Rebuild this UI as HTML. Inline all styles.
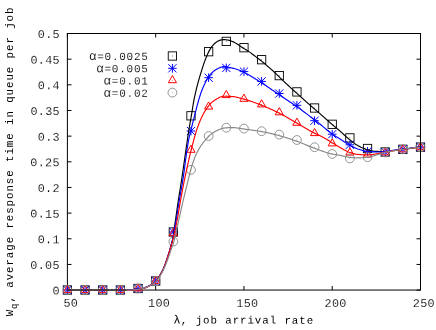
<!DOCTYPE html>
<html><head><meta charset="utf-8"><title>chart</title>
<style>
html,body{margin:0;padding:0;background:#fff;}
body{width:436px;height:330px;overflow:hidden;position:relative;font-family:"Liberation Mono",monospace;}
</style></head><body>
<svg width="436" height="330" viewBox="0 0 436 330" style="position:absolute;left:0;top:0;will-change:transform">
<g stroke="#000" stroke-width="1" fill="none">
<path d="M67.4 33.5V290.1"/>
<path d="M66.9 33.5H421"/>
<path d="M66.9 290.05H421" />
<path d="M67.5 290.10h4M420.5 290.10h-4M67.5 264.44h4M420.5 264.44h-4M67.5 238.78h4M420.5 238.78h-4M67.5 213.12h4M420.5 213.12h-4M67.5 187.46h4M420.5 187.46h-4M67.5 161.80h4M420.5 161.80h-4M67.5 136.14h4M420.5 136.14h-4M67.5 110.48h4M420.5 110.48h-4M67.5 84.82h4M420.5 84.82h-4M67.5 59.16h4M420.5 59.16h-4M67.5 33.50h4M420.5 33.50h-4M67.40 290v-4M67.40 33.5v4M155.68 290v-4M155.68 33.5v4M243.95 290v-4M243.95 33.5v4M332.23 290v-4M332.23 33.5v4M420.50 290v-4M420.50 33.5v4"/>
</g>
<rect x="63.25" y="285.85" width="8.30" height="8.30" fill="none" stroke="#000000" stroke-width="0.9"/><rect x="66.95" y="289.55" width="0.9" height="0.9" fill="#000000" opacity="0.6"/>
<rect x="80.91" y="285.85" width="8.30" height="8.30" fill="none" stroke="#000000" stroke-width="0.9"/><rect x="84.61" y="289.55" width="0.9" height="0.9" fill="#000000" opacity="0.6"/>
<rect x="98.56" y="285.85" width="8.30" height="8.30" fill="none" stroke="#000000" stroke-width="0.9"/><rect x="102.26" y="289.55" width="0.9" height="0.9" fill="#000000" opacity="0.6"/>
<rect x="116.22" y="285.85" width="8.30" height="8.30" fill="none" stroke="#000000" stroke-width="0.9"/><rect x="119.92" y="289.55" width="0.9" height="0.9" fill="#000000" opacity="0.6"/>
<rect x="133.87" y="284.35" width="8.30" height="8.30" fill="none" stroke="#000000" stroke-width="0.9"/><rect x="137.57" y="288.05" width="0.9" height="0.9" fill="#000000" opacity="0.6"/>
<rect x="151.53" y="276.85" width="8.30" height="8.30" fill="none" stroke="#000000" stroke-width="0.9"/><rect x="155.23" y="280.55" width="0.9" height="0.9" fill="#000000" opacity="0.6"/>
<rect x="169.18" y="227.85" width="8.30" height="8.30" fill="none" stroke="#000000" stroke-width="0.9"/><rect x="172.88" y="231.55" width="0.9" height="0.9" fill="#000000" opacity="0.6"/>
<rect x="186.84" y="111.65" width="8.30" height="8.30" fill="none" stroke="#000000" stroke-width="0.9"/><rect x="190.54" y="115.35" width="0.9" height="0.9" fill="#000000" opacity="0.6"/>
<rect x="204.49" y="47.55" width="8.30" height="8.30" fill="none" stroke="#000000" stroke-width="0.9"/><rect x="208.19" y="51.25" width="0.9" height="0.9" fill="#000000" opacity="0.6"/>
<rect x="222.15" y="37.25" width="8.30" height="8.30" fill="none" stroke="#000000" stroke-width="0.9"/><rect x="225.85" y="40.95" width="0.9" height="0.9" fill="#000000" opacity="0.6"/>
<rect x="239.80" y="43.55" width="8.30" height="8.30" fill="none" stroke="#000000" stroke-width="0.9"/><rect x="243.50" y="47.25" width="0.9" height="0.9" fill="#000000" opacity="0.6"/>
<rect x="257.46" y="55.55" width="8.30" height="8.30" fill="none" stroke="#000000" stroke-width="0.9"/><rect x="261.16" y="59.25" width="0.9" height="0.9" fill="#000000" opacity="0.6"/>
<rect x="275.11" y="71.45" width="8.30" height="8.30" fill="none" stroke="#000000" stroke-width="0.9"/><rect x="278.81" y="75.15" width="0.9" height="0.9" fill="#000000" opacity="0.6"/>
<rect x="292.76" y="87.75" width="8.30" height="8.30" fill="none" stroke="#000000" stroke-width="0.9"/><rect x="296.46" y="91.45" width="0.9" height="0.9" fill="#000000" opacity="0.6"/>
<rect x="310.42" y="103.85" width="8.30" height="8.30" fill="none" stroke="#000000" stroke-width="0.9"/><rect x="314.12" y="107.55" width="0.9" height="0.9" fill="#000000" opacity="0.6"/>
<rect x="328.08" y="120.15" width="8.30" height="8.30" fill="none" stroke="#000000" stroke-width="0.9"/><rect x="331.78" y="123.85" width="0.9" height="0.9" fill="#000000" opacity="0.6"/>
<rect x="345.73" y="133.75" width="8.30" height="8.30" fill="none" stroke="#000000" stroke-width="0.9"/><rect x="349.43" y="137.45" width="0.9" height="0.9" fill="#000000" opacity="0.6"/>
<rect x="363.39" y="144.35" width="8.30" height="8.30" fill="none" stroke="#000000" stroke-width="0.9"/><rect x="367.09" y="148.05" width="0.9" height="0.9" fill="#000000" opacity="0.6"/>
<rect x="381.04" y="147.85" width="8.30" height="8.30" fill="none" stroke="#000000" stroke-width="0.9"/><rect x="384.74" y="151.55" width="0.9" height="0.9" fill="#000000" opacity="0.6"/>
<rect x="398.70" y="145.15" width="8.30" height="8.30" fill="none" stroke="#000000" stroke-width="0.9"/><rect x="402.40" y="148.85" width="0.9" height="0.9" fill="#000000" opacity="0.6"/>
<rect x="416.35" y="142.95" width="8.30" height="8.30" fill="none" stroke="#000000" stroke-width="0.9"/><rect x="420.05" y="146.65" width="0.9" height="0.9" fill="#000000" opacity="0.6"/>
<path d="M63.10 290.00h8.60M67.40 285.70v8.60M63.30 285.90l8.20 8.20M63.30 294.10l8.20 -8.20" stroke="#0000ff" stroke-width="1" fill="none"/>
<path d="M80.76 290.00h8.60M85.06 285.70v8.60M80.96 285.90l8.20 8.20M80.96 294.10l8.20 -8.20" stroke="#0000ff" stroke-width="1" fill="none"/>
<path d="M98.41 290.00h8.60M102.71 285.70v8.60M98.61 285.90l8.20 8.20M98.61 294.10l8.20 -8.20" stroke="#0000ff" stroke-width="1" fill="none"/>
<path d="M116.07 290.00h8.60M120.37 285.70v8.60M116.27 285.90l8.20 8.20M116.27 294.10l8.20 -8.20" stroke="#0000ff" stroke-width="1" fill="none"/>
<path d="M133.72 288.50h8.60M138.02 284.20v8.60M133.92 284.40l8.20 8.20M133.92 292.60l8.20 -8.20" stroke="#0000ff" stroke-width="1" fill="none"/>
<path d="M151.38 281.00h8.60M155.68 276.70v8.60M151.58 276.90l8.20 8.20M151.58 285.10l8.20 -8.20" stroke="#0000ff" stroke-width="1" fill="none"/>
<path d="M169.03 232.00h8.60M173.33 227.70v8.60M169.23 227.90l8.20 8.20M169.23 236.10l8.20 -8.20" stroke="#0000ff" stroke-width="1" fill="none"/>
<path d="M186.69 131.00h8.60M190.99 126.70v8.60M186.89 126.90l8.20 8.20M186.89 135.10l8.20 -8.20" stroke="#0000ff" stroke-width="1" fill="none"/>
<path d="M204.34 77.70h8.60M208.64 73.40v8.60M204.54 73.60l8.20 8.20M204.54 81.80l8.20 -8.20" stroke="#0000ff" stroke-width="1" fill="none"/>
<path d="M222.00 67.90h8.60M226.30 63.60v8.60M222.20 63.80l8.20 8.20M222.20 72.00l8.20 -8.20" stroke="#0000ff" stroke-width="1" fill="none"/>
<path d="M239.65 71.60h8.60M243.95 67.30v8.60M239.85 67.50l8.20 8.20M239.85 75.70l8.20 -8.20" stroke="#0000ff" stroke-width="1" fill="none"/>
<path d="M257.31 81.40h8.60M261.61 77.10v8.60M257.50 77.30l8.20 8.20M257.50 85.50l8.20 -8.20" stroke="#0000ff" stroke-width="1" fill="none"/>
<path d="M274.96 93.50h8.60M279.26 89.20v8.60M275.16 89.40l8.20 8.20M275.16 97.60l8.20 -8.20" stroke="#0000ff" stroke-width="1" fill="none"/>
<path d="M292.61 105.30h8.60M296.91 101.00v8.60M292.81 101.20l8.20 8.20M292.81 109.40l8.20 -8.20" stroke="#0000ff" stroke-width="1" fill="none"/>
<path d="M310.27 120.70h8.60M314.57 116.40v8.60M310.47 116.60l8.20 8.20M310.47 124.80l8.20 -8.20" stroke="#0000ff" stroke-width="1" fill="none"/>
<path d="M327.93 134.20h8.60M332.23 129.90v8.60M328.12 130.10l8.20 8.20M328.12 138.30l8.20 -8.20" stroke="#0000ff" stroke-width="1" fill="none"/>
<path d="M345.58 144.80h8.60M349.88 140.50v8.60M345.78 140.70l8.20 8.20M345.78 148.90l8.20 -8.20" stroke="#0000ff" stroke-width="1" fill="none"/>
<path d="M363.24 151.40h8.60M367.54 147.10v8.60M363.44 147.30l8.20 8.20M363.44 155.50l8.20 -8.20" stroke="#0000ff" stroke-width="1" fill="none"/>
<path d="M380.89 152.00h8.60M385.19 147.70v8.60M381.09 147.90l8.20 8.20M381.09 156.10l8.20 -8.20" stroke="#0000ff" stroke-width="1" fill="none"/>
<path d="M398.55 149.30h8.60M402.85 145.00v8.60M398.75 145.20l8.20 8.20M398.75 153.40l8.20 -8.20" stroke="#0000ff" stroke-width="1" fill="none"/>
<path d="M416.20 147.10h8.60M420.50 142.80v8.60M416.40 143.00l8.20 8.20M416.40 151.20l8.20 -8.20" stroke="#0000ff" stroke-width="1" fill="none"/>
<path d="M67.40 285.25L63.30 292.40L71.50 292.40Z" stroke="#ff0000" stroke-width="1" fill="none"/><rect x="66.95" y="289.55" width="0.9" height="0.9" fill="#ff0000" opacity="0.6"/>
<path d="M85.06 285.25L80.96 292.40L89.16 292.40Z" stroke="#ff0000" stroke-width="1" fill="none"/><rect x="84.61" y="289.55" width="0.9" height="0.9" fill="#ff0000" opacity="0.6"/>
<path d="M102.71 285.25L98.61 292.40L106.81 292.40Z" stroke="#ff0000" stroke-width="1" fill="none"/><rect x="102.26" y="289.55" width="0.9" height="0.9" fill="#ff0000" opacity="0.6"/>
<path d="M120.37 285.25L116.27 292.40L124.47 292.40Z" stroke="#ff0000" stroke-width="1" fill="none"/><rect x="119.92" y="289.55" width="0.9" height="0.9" fill="#ff0000" opacity="0.6"/>
<path d="M138.02 283.75L133.92 290.90L142.12 290.90Z" stroke="#ff0000" stroke-width="1" fill="none"/><rect x="137.57" y="288.05" width="0.9" height="0.9" fill="#ff0000" opacity="0.6"/>
<path d="M155.68 276.25L151.58 283.40L159.78 283.40Z" stroke="#ff0000" stroke-width="1" fill="none"/><rect x="155.23" y="280.55" width="0.9" height="0.9" fill="#ff0000" opacity="0.6"/>
<path d="M173.33 228.45L169.23 235.60L177.43 235.60Z" stroke="#ff0000" stroke-width="1" fill="none"/><rect x="172.88" y="232.75" width="0.9" height="0.9" fill="#ff0000" opacity="0.6"/>
<path d="M190.99 145.15L186.89 152.30L195.09 152.30Z" stroke="#ff0000" stroke-width="1" fill="none"/><rect x="190.54" y="149.45" width="0.9" height="0.9" fill="#ff0000" opacity="0.6"/>
<path d="M208.64 101.95L204.54 109.10L212.74 109.10Z" stroke="#ff0000" stroke-width="1" fill="none"/><rect x="208.19" y="106.25" width="0.9" height="0.9" fill="#ff0000" opacity="0.6"/>
<path d="M226.30 90.45L222.20 97.60L230.40 97.60Z" stroke="#ff0000" stroke-width="1" fill="none"/><rect x="225.85" y="94.75" width="0.9" height="0.9" fill="#ff0000" opacity="0.6"/>
<path d="M243.95 94.15L239.85 101.30L248.05 101.30Z" stroke="#ff0000" stroke-width="1" fill="none"/><rect x="243.50" y="98.45" width="0.9" height="0.9" fill="#ff0000" opacity="0.6"/>
<path d="M261.61 99.75L257.50 106.90L265.71 106.90Z" stroke="#ff0000" stroke-width="1" fill="none"/><rect x="261.16" y="104.05" width="0.9" height="0.9" fill="#ff0000" opacity="0.6"/>
<path d="M279.26 107.65L275.16 114.80L283.36 114.80Z" stroke="#ff0000" stroke-width="1" fill="none"/><rect x="278.81" y="111.95" width="0.9" height="0.9" fill="#ff0000" opacity="0.6"/>
<path d="M296.91 118.15L292.81 125.30L301.01 125.30Z" stroke="#ff0000" stroke-width="1" fill="none"/><rect x="296.46" y="122.45" width="0.9" height="0.9" fill="#ff0000" opacity="0.6"/>
<path d="M314.57 128.45L310.47 135.60L318.67 135.60Z" stroke="#ff0000" stroke-width="1" fill="none"/><rect x="314.12" y="132.75" width="0.9" height="0.9" fill="#ff0000" opacity="0.6"/>
<path d="M332.23 138.75L328.12 145.90L336.33 145.90Z" stroke="#ff0000" stroke-width="1" fill="none"/><rect x="331.78" y="143.05" width="0.9" height="0.9" fill="#ff0000" opacity="0.6"/>
<path d="M349.88 147.95L345.78 155.10L353.98 155.10Z" stroke="#ff0000" stroke-width="1" fill="none"/><rect x="349.43" y="152.25" width="0.9" height="0.9" fill="#ff0000" opacity="0.6"/>
<path d="M367.54 149.95L363.44 157.10L371.64 157.10Z" stroke="#ff0000" stroke-width="1" fill="none"/><rect x="367.09" y="154.25" width="0.9" height="0.9" fill="#ff0000" opacity="0.6"/>
<path d="M385.19 147.75L381.09 154.90L389.29 154.90Z" stroke="#ff0000" stroke-width="1" fill="none"/><rect x="384.74" y="152.05" width="0.9" height="0.9" fill="#ff0000" opacity="0.6"/>
<path d="M402.85 144.75L398.75 151.90L406.95 151.90Z" stroke="#ff0000" stroke-width="1" fill="none"/><rect x="402.40" y="149.05" width="0.9" height="0.9" fill="#ff0000" opacity="0.6"/>
<path d="M420.50 142.55L416.40 149.70L424.60 149.70Z" stroke="#ff0000" stroke-width="1" fill="none"/><rect x="420.05" y="146.85" width="0.9" height="0.9" fill="#ff0000" opacity="0.6"/>
<circle cx="67.40" cy="290.00" r="4.40" fill="none" stroke="#888888" stroke-width="0.9"/><rect x="66.95" y="289.55" width="0.9" height="0.9" fill="#888888" opacity="0.6"/>
<circle cx="85.06" cy="290.00" r="4.40" fill="none" stroke="#888888" stroke-width="0.9"/><rect x="84.61" y="289.55" width="0.9" height="0.9" fill="#888888" opacity="0.6"/>
<circle cx="102.71" cy="290.00" r="4.40" fill="none" stroke="#888888" stroke-width="0.9"/><rect x="102.26" y="289.55" width="0.9" height="0.9" fill="#888888" opacity="0.6"/>
<circle cx="120.37" cy="290.00" r="4.40" fill="none" stroke="#888888" stroke-width="0.9"/><rect x="119.92" y="289.55" width="0.9" height="0.9" fill="#888888" opacity="0.6"/>
<circle cx="138.02" cy="288.50" r="4.40" fill="none" stroke="#888888" stroke-width="0.9"/><rect x="137.57" y="288.05" width="0.9" height="0.9" fill="#888888" opacity="0.6"/>
<circle cx="155.68" cy="281.00" r="4.40" fill="none" stroke="#888888" stroke-width="0.9"/><rect x="155.23" y="280.55" width="0.9" height="0.9" fill="#888888" opacity="0.6"/>
<circle cx="173.33" cy="241.50" r="4.40" fill="none" stroke="#888888" stroke-width="0.9"/><rect x="172.88" y="241.05" width="0.9" height="0.9" fill="#888888" opacity="0.6"/>
<circle cx="190.99" cy="169.80" r="4.40" fill="none" stroke="#888888" stroke-width="0.9"/><rect x="190.54" y="169.35" width="0.9" height="0.9" fill="#888888" opacity="0.6"/>
<circle cx="208.64" cy="136.00" r="4.40" fill="none" stroke="#888888" stroke-width="0.9"/><rect x="208.19" y="135.55" width="0.9" height="0.9" fill="#888888" opacity="0.6"/>
<circle cx="226.30" cy="127.70" r="4.40" fill="none" stroke="#888888" stroke-width="0.9"/><rect x="225.85" y="127.25" width="0.9" height="0.9" fill="#888888" opacity="0.6"/>
<circle cx="243.95" cy="128.60" r="4.40" fill="none" stroke="#888888" stroke-width="0.9"/><rect x="243.50" y="128.15" width="0.9" height="0.9" fill="#888888" opacity="0.6"/>
<circle cx="261.61" cy="131.20" r="4.40" fill="none" stroke="#888888" stroke-width="0.9"/><rect x="261.16" y="130.75" width="0.9" height="0.9" fill="#888888" opacity="0.6"/>
<circle cx="279.26" cy="134.60" r="4.40" fill="none" stroke="#888888" stroke-width="0.9"/><rect x="278.81" y="134.15" width="0.9" height="0.9" fill="#888888" opacity="0.6"/>
<circle cx="296.91" cy="140.00" r="4.40" fill="none" stroke="#888888" stroke-width="0.9"/><rect x="296.46" y="139.55" width="0.9" height="0.9" fill="#888888" opacity="0.6"/>
<circle cx="314.57" cy="147.20" r="4.40" fill="none" stroke="#888888" stroke-width="0.9"/><rect x="314.12" y="146.75" width="0.9" height="0.9" fill="#888888" opacity="0.6"/>
<circle cx="332.23" cy="154.00" r="4.40" fill="none" stroke="#888888" stroke-width="0.9"/><rect x="331.78" y="153.55" width="0.9" height="0.9" fill="#888888" opacity="0.6"/>
<circle cx="349.88" cy="158.40" r="4.40" fill="none" stroke="#888888" stroke-width="0.9"/><rect x="349.43" y="157.95" width="0.9" height="0.9" fill="#888888" opacity="0.6"/>
<circle cx="367.54" cy="157.20" r="4.40" fill="none" stroke="#888888" stroke-width="0.9"/><rect x="367.09" y="156.75" width="0.9" height="0.9" fill="#888888" opacity="0.6"/>
<circle cx="385.19" cy="152.40" r="4.40" fill="none" stroke="#888888" stroke-width="0.9"/><rect x="384.74" y="151.95" width="0.9" height="0.9" fill="#888888" opacity="0.6"/>
<circle cx="402.85" cy="149.30" r="4.40" fill="none" stroke="#888888" stroke-width="0.9"/><rect x="402.40" y="148.85" width="0.9" height="0.9" fill="#888888" opacity="0.6"/>
<circle cx="420.50" cy="147.10" r="4.40" fill="none" stroke="#888888" stroke-width="0.9"/><rect x="420.05" y="146.65" width="0.9" height="0.9" fill="#888888" opacity="0.6"/>
<path d="M67 290H131" stroke="#42303a" stroke-width="1.5" fill="none"/>
<path d="M126.00 290.00 L126.88 290.00 L127.76 290.00 L128.63 290.00 L129.51 290.00 L130.39 290.00 L131.26 289.96 L132.14 289.90 L133.01 289.81 L133.89 289.72 L134.76 289.63 L135.63 289.53 L136.50 289.44 L137.38 289.33 L138.26 289.22 L139.13 289.09 L140.00 288.95 L140.86 288.81 L141.72 288.64 L142.56 288.46 L143.41 288.25 L144.25 287.99 L145.08 287.71 L145.91 287.39 L146.73 287.05 L147.54 286.69 L148.33 286.33 L149.11 285.95 L149.90 285.55 L150.69 285.13 L151.47 284.68 L152.24 284.21 L152.98 283.72 L153.71 283.21 L154.40 282.67 L155.05 282.12 L155.66 281.55 L156.23 280.93 L156.77 280.26 L157.29 279.55 L157.79 278.81 L158.27 278.05 L158.74 277.28 L159.19 276.51 L159.65 275.75 L160.10 275.00 L160.54 274.25 L160.98 273.49 L161.40 272.72 L161.82 271.94 L162.23 271.16 L162.62 270.37 L163.00 269.58 L163.37 268.79 L163.72 267.99 L164.06 267.19 L164.39 266.38 L164.71 265.56 L165.03 264.74 L165.33 263.91 L165.63 263.09 L165.92 262.26 L166.21 261.43 L166.50 260.60 L166.78 259.77 L167.06 258.94 L167.33 258.10 L167.60 257.27 L167.87 256.43 L168.13 255.59 L168.39 254.76 L168.65 253.92 L168.90 253.08 L169.15 252.23 L169.40 251.39 L169.64 250.55 L169.88 249.71 L170.13 248.87 L170.38 248.02 L170.63 247.18 L170.88 246.34 L171.12 245.49 L171.36 244.65 L171.59 243.80 L171.82 242.95 L172.03 242.10 L172.23 241.25 L172.42 240.39 L172.59 239.54 L172.75 238.68 L172.91 237.82 L173.06 236.96 L173.21 236.10 L173.35 235.23 L173.49 234.37 L173.62 233.50 L173.75 232.63 L173.87 231.76 L174.00 230.89 L174.12 230.02 L174.24 229.15 L174.36 228.28 L174.47 227.41 L174.59 226.54 L174.71 225.67 L174.82 224.80 L174.94 223.93 L175.06 223.06 L175.19 222.19 L175.31 221.32 L175.44 220.45 L175.56 219.58 L175.69 218.71 L175.82 217.84 L175.94 216.98 L176.07 216.11 L176.19 215.24 L176.32 214.37 L176.44 213.50 L176.56 212.63 L176.69 211.77 L176.81 210.90 L176.94 210.03 L177.06 209.16 L177.18 208.29 L177.31 207.42 L177.43 206.56 L177.56 205.69 L177.68 204.82 L177.81 203.95 L177.94 203.08 L178.07 202.22 L178.20 201.35 L178.33 200.48 L178.46 199.61 L178.59 198.75 L178.73 197.88 L178.86 197.01 L179.00 196.15 L179.14 195.28 L179.27 194.41 L179.41 193.55 L179.55 192.68 L179.69 191.82 L179.83 190.95 L179.98 190.08 L180.12 189.22 L180.26 188.35 L180.40 187.49 L180.54 186.62 L180.68 185.75 L180.81 184.89 L180.95 184.02 L181.09 183.16 L181.22 182.29 L181.36 181.42 L181.49 180.56 L181.62 179.69 L181.75 178.82 L181.88 177.95 L182.01 177.09 L182.14 176.22 L182.27 175.35 L182.40 174.48 L182.53 173.62 L182.66 172.75 L182.78 171.88 L182.91 171.01 L183.03 170.14 L183.16 169.28 L183.28 168.41 L183.41 167.54 L183.53 166.67 L183.66 165.80 L183.78 164.93 L183.91 164.07 L184.03 163.20 L184.15 162.33 L184.28 161.46 L184.40 160.59 L184.52 159.72 L184.65 158.85 L184.77 157.99 L184.89 157.12 L185.02 156.25 L185.14 155.38 L185.26 154.51 L185.39 153.64 L185.51 152.77 L185.63 151.91 L185.76 151.04 L185.88 150.17 L186.00 149.30 L186.13 148.43 L186.25 147.56 L186.38 146.70 L186.50 145.83 L186.63 144.96 L186.76 144.09 L186.88 143.22 L187.01 142.36 L187.14 141.49 L187.27 140.62 L187.40 139.75 L187.52 138.88 L187.65 138.02 L187.78 137.15 L187.91 136.28 L188.04 135.41 L188.17 134.55 L188.30 133.68 L188.43 132.81 L188.56 131.94 L188.70 131.08 L188.83 130.21 L188.97 129.34 L189.12 128.48 L189.26 127.61 L189.41 126.75 L189.56 125.89 L189.71 125.02 L189.86 124.16 L190.02 123.29 L190.17 122.43 L190.33 121.57 L190.48 120.70 L190.63 119.84 L190.79 118.98 L190.94 118.11 L191.09 117.25 L191.25 116.38 L191.39 115.52 L191.54 114.66 L191.69 113.79 L191.83 112.92 L191.97 112.06 L192.10 111.19 L192.24 110.32 L192.37 109.46 L192.51 108.59 L192.64 107.72 L192.78 106.86 L192.92 105.99 L193.06 105.12 L193.20 104.26 L193.35 103.39 L193.50 102.53 L193.65 101.67 L193.81 100.80 L193.97 99.94 L194.14 99.08 L194.31 98.22 L194.49 97.36 L194.67 96.50 L194.85 95.65 L195.04 94.79 L195.23 93.93 L195.43 93.08 L195.63 92.22 L195.83 91.37 L196.03 90.51 L196.23 89.66 L196.44 88.81 L196.65 87.96 L196.86 87.11 L197.08 86.26 L197.30 85.41 L197.52 84.56 L197.75 83.71 L197.98 82.86 L198.21 82.02 L198.44 81.17 L198.68 80.33 L198.92 79.48 L199.16 78.64 L199.40 77.80 L199.65 76.96 L199.91 76.12 L200.16 75.28 L200.42 74.44 L200.68 73.60 L200.94 72.76 L201.20 71.93 L201.46 71.09 L201.72 70.25 L201.98 69.41 L202.25 68.58 L202.51 67.74 L202.77 66.90 L203.04 66.07 L203.31 65.23 L203.59 64.40 L203.87 63.57 L204.17 62.75 L204.46 61.92 L204.77 61.10 L205.07 60.27 L205.39 59.45 L205.71 58.64 L206.03 57.82 L206.37 57.01 L206.71 56.20 L207.05 55.39 L207.40 54.58 L207.76 53.78 L208.12 52.97 L208.50 52.18 L208.89 51.39 L209.29 50.62 L209.72 49.87 L210.17 49.12 L210.64 48.37 L211.14 47.64 L211.65 46.92 L212.19 46.22 L212.74 45.54 L213.31 44.89 L213.91 44.25 L214.54 43.62 L215.19 43.01 L215.87 42.45 L216.58 41.94 L217.31 41.49 L218.08 41.05 L218.89 40.66 L219.71 40.34 L220.54 40.11 L221.39 39.91 L222.27 39.73 L223.14 39.62 L224.01 39.60 L224.89 39.65 L225.77 39.73 L226.64 39.83 L227.51 39.95 L228.36 40.12 L229.21 40.35 L230.06 40.62 L230.89 40.90 L231.71 41.19 L232.53 41.52 L233.33 41.88 L234.12 42.26 L234.89 42.67 L235.64 43.12 L236.38 43.59 L237.12 44.07 L237.85 44.56 L238.58 45.06 L239.31 45.55 L240.05 46.02 L240.78 46.50 L241.52 46.98 L242.25 47.45 L242.99 47.93 L243.73 48.40 L244.47 48.87 L245.22 49.33 L245.98 49.78 L246.73 50.23 L247.48 50.68 L248.22 51.15 L248.95 51.64 L249.67 52.13 L250.38 52.64 L251.09 53.16 L251.80 53.68 L252.50 54.21 L253.19 54.74 L253.89 55.28 L254.58 55.82 L255.28 56.35 L255.97 56.89 L256.67 57.42 L257.37 57.95 L258.07 58.48 L258.78 59.00 L259.48 59.52 L260.19 60.05 L260.88 60.58 L261.57 61.12 L262.26 61.67 L262.94 62.23 L263.61 62.79 L264.28 63.36 L264.94 63.93 L265.61 64.50 L266.27 65.08 L266.94 65.65 L267.60 66.22 L268.27 66.79 L268.93 67.36 L269.60 67.94 L270.26 68.51 L270.92 69.09 L271.58 69.67 L272.24 70.25 L272.89 70.84 L273.54 71.43 L274.18 72.02 L274.82 72.62 L275.46 73.22 L276.08 73.84 L276.70 74.46 L277.32 75.08 L277.94 75.71 L278.56 76.33 L279.19 76.94 L279.82 77.55 L280.45 78.15 L281.08 78.76 L281.72 79.37 L282.36 79.97 L282.99 80.57 L283.63 81.18 L284.27 81.78 L284.91 82.38 L285.55 82.98 L286.19 83.58 L286.83 84.17 L287.47 84.77 L288.12 85.37 L288.76 85.96 L289.41 86.56 L290.05 87.15 L290.70 87.75 L291.34 88.34 L291.99 88.93 L292.64 89.53 L293.28 90.12 L293.93 90.71 L294.58 91.30 L295.23 91.89 L295.88 92.48 L296.53 93.07 L297.18 93.66 L297.83 94.25 L298.48 94.84 L299.13 95.42 L299.78 96.01 L300.43 96.60 L301.09 97.18 L301.74 97.77 L302.39 98.35 L303.05 98.94 L303.70 99.52 L304.36 100.10 L305.02 100.69 L305.67 101.27 L306.33 101.85 L306.99 102.43 L307.64 103.01 L308.30 103.59 L308.96 104.17 L309.62 104.75 L310.28 105.33 L310.94 105.90 L311.60 106.48 L312.26 107.06 L312.93 107.63 L313.59 108.21 L314.25 108.78 L314.91 109.36 L315.58 109.93 L316.25 110.50 L316.91 111.07 L317.58 111.63 L318.25 112.20 L318.92 112.77 L319.59 113.34 L320.25 113.92 L320.91 114.49 L321.57 115.07 L322.23 115.65 L322.88 116.23 L323.54 116.82 L324.19 117.40 L324.85 117.98 L325.50 118.57 L326.15 119.15 L326.81 119.74 L327.46 120.32 L328.12 120.91 L328.77 121.49 L329.43 122.07 L330.09 122.65 L330.74 123.23 L331.41 123.81 L332.07 124.39 L332.73 124.96 L333.40 125.53 L334.07 126.09 L334.74 126.66 L335.41 127.22 L336.08 127.79 L336.76 128.35 L337.43 128.91 L338.10 129.48 L338.77 130.04 L339.44 130.61 L340.10 131.19 L340.76 131.77 L341.41 132.35 L342.07 132.94 L342.71 133.54 L343.36 134.13 L344.01 134.73 L344.65 135.32 L345.30 135.92 L345.95 136.51 L346.60 137.10 L347.26 137.68 L347.92 138.25 L348.59 138.82 L349.26 139.37 L349.95 139.92 L350.63 140.46 L351.33 141.00 L352.02 141.55 L352.72 142.09 L353.43 142.62 L354.14 143.15 L354.86 143.67 L355.58 144.17 L356.31 144.65 L357.05 145.12 L357.80 145.56 L358.56 145.98 L359.32 146.38 L360.10 146.77 L360.89 147.16 L361.69 147.53 L362.50 147.90 L363.31 148.25 L364.14 148.58 L364.96 148.89 L365.79 149.18 L366.63 149.45 L367.46 149.69 L368.30 149.92 L369.15 150.15 L370.00 150.38 L370.86 150.60 L371.72 150.81 L372.58 150.99 L373.45 151.15 L374.32 151.28 L375.19 151.36 L376.06 151.40 L376.93 151.42 L377.81 151.43 L378.68 151.45 L379.56 151.46 L380.44 151.47 L381.32 151.48 L382.20 151.49 L383.08 151.49 L383.96 151.50 L384.84 151.50 L385.71 151.49 L386.58 151.45 L387.45 151.37 L388.32 151.27 L389.19 151.15 L390.06 151.01 L390.93 150.87 L391.80 150.73 L392.67 150.59 L393.54 150.46 L394.41 150.35 L395.28 150.24 L396.15 150.13 L397.02 150.03 L397.89 149.92 L398.76 149.81 L399.64 149.71 L400.51 149.60 L401.38 149.49 L402.25 149.38 L403.12 149.27 L403.99 149.15 L404.86 149.04 L405.73 148.93 L406.60 148.81 L407.47 148.70 L408.33 148.58 L409.20 148.46 L410.07 148.35 L410.94 148.23 L411.81 148.11 L412.68 148.00 L413.55 147.88 L414.42 147.76 L415.29 147.64 L416.16 147.52 L417.03 147.39 L417.89 147.27 L418.76 147.15 L419.63 147.02 L420.50 146.90" fill="none" stroke="#000000" stroke-width="1.15" stroke-linejoin="round" transform="translate(0 0)"/>
<path d="M126.00 290.00 L126.81 290.00 L127.62 290.00 L128.43 290.00 L129.24 290.00 L130.05 290.00 L130.86 289.98 L131.67 289.93 L132.47 289.87 L133.28 289.79 L134.09 289.70 L134.89 289.61 L135.70 289.53 L136.50 289.44 L137.31 289.34 L138.12 289.23 L138.93 289.12 L139.73 289.00 L140.53 288.86 L141.32 288.72 L142.11 288.56 L142.89 288.39 L143.67 288.18 L144.44 287.93 L145.21 287.66 L145.98 287.36 L146.73 287.05 L147.48 286.72 L148.21 286.38 L148.93 286.04 L149.66 285.68 L150.38 285.30 L151.11 284.89 L151.82 284.47 L152.53 284.03 L153.21 283.57 L153.87 283.09 L154.50 282.59 L155.10 282.08 L155.66 281.55 L156.18 280.98 L156.69 280.36 L157.17 279.71 L157.63 279.04 L158.08 278.35 L158.52 277.64 L158.95 276.93 L159.37 276.22 L159.79 275.52 L160.20 274.83 L160.61 274.13 L161.01 273.43 L161.40 272.72 L161.79 272.00 L162.17 271.28 L162.53 270.56 L162.89 269.83 L163.23 269.10 L163.56 268.36 L163.88 267.62 L164.19 266.88 L164.49 266.12 L164.79 265.37 L165.07 264.61 L165.35 263.85 L165.63 263.09 L165.90 262.32 L166.17 261.55 L166.43 260.79 L166.69 260.02 L166.95 259.26 L167.21 258.49 L167.46 257.72 L167.71 256.95 L167.95 256.17 L168.19 255.40 L168.43 254.63 L168.67 253.85 L168.90 253.08 L169.13 252.30 L169.36 251.52 L169.58 250.75 L169.81 249.97 L170.03 249.19 L170.26 248.41 L170.48 247.63 L170.71 246.85 L170.93 246.07 L171.15 245.29 L171.36 244.51 L171.58 243.73 L171.78 242.95 L171.98 242.16 L172.18 241.38 L172.36 240.59 L172.54 239.80 L172.72 239.01 L172.89 238.22 L173.06 237.43 L173.22 236.64 L173.38 235.85 L173.54 235.05 L173.70 234.26 L173.85 233.47 L174.00 232.67 L174.15 231.87 L174.30 231.08 L174.44 230.28 L174.58 229.48 L174.72 228.68 L174.86 227.88 L175.00 227.09 L175.14 226.29 L175.28 225.49 L175.42 224.69 L175.55 223.89 L175.69 223.09 L175.83 222.29 L175.96 221.50 L176.10 220.70 L176.24 219.90 L176.37 219.10 L176.50 218.30 L176.64 217.50 L176.77 216.70 L176.89 215.91 L177.02 215.11 L177.15 214.31 L177.27 213.51 L177.40 212.71 L177.52 211.91 L177.65 211.11 L177.77 210.31 L177.89 209.51 L178.02 208.70 L178.14 207.90 L178.27 207.10 L178.39 206.30 L178.51 205.50 L178.64 204.70 L178.77 203.90 L178.89 203.10 L179.02 202.30 L179.15 201.51 L179.28 200.71 L179.42 199.91 L179.55 199.11 L179.69 198.31 L179.82 197.51 L179.96 196.72 L180.10 195.92 L180.24 195.12 L180.38 194.32 L180.53 193.53 L180.67 192.73 L180.81 191.93 L180.96 191.13 L181.10 190.34 L181.24 189.54 L181.39 188.74 L181.53 187.95 L181.67 187.15 L181.81 186.35 L181.95 185.55 L182.09 184.76 L182.23 183.96 L182.36 183.16 L182.50 182.36 L182.63 181.56 L182.76 180.76 L182.89 179.96 L183.01 179.16 L183.13 178.36 L183.25 177.56 L183.37 176.76 L183.49 175.96 L183.61 175.16 L183.72 174.36 L183.83 173.55 L183.95 172.75 L184.06 171.95 L184.17 171.15 L184.27 170.34 L184.38 169.54 L184.49 168.74 L184.59 167.93 L184.70 167.13 L184.80 166.32 L184.91 165.52 L185.01 164.72 L185.12 163.91 L185.22 163.11 L185.32 162.30 L185.43 161.50 L185.53 160.70 L185.64 159.89 L185.74 159.09 L185.85 158.28 L185.95 157.48 L186.06 156.68 L186.17 155.87 L186.28 155.07 L186.39 154.27 L186.50 153.47 L186.61 152.67 L186.73 151.86 L186.85 151.06 L186.96 150.26 L187.08 149.46 L187.20 148.66 L187.33 147.86 L187.45 147.06 L187.58 146.27 L187.71 145.47 L187.84 144.67 L187.98 143.87 L188.12 143.08 L188.26 142.28 L188.40 141.49 L188.55 140.69 L188.70 139.90 L188.85 139.11 L189.02 138.32 L189.19 137.53 L189.37 136.74 L189.55 135.95 L189.74 135.16 L189.93 134.37 L190.12 133.59 L190.32 132.80 L190.52 132.01 L190.72 131.23 L190.92 130.44 L191.12 129.66 L191.31 128.87 L191.51 128.08 L191.70 127.30 L191.89 126.51 L192.08 125.72 L192.28 124.94 L192.47 124.15 L192.66 123.36 L192.86 122.58 L193.05 121.79 L193.25 121.01 L193.45 120.22 L193.64 119.44 L193.84 118.65 L194.04 117.87 L194.24 117.08 L194.44 116.30 L194.64 115.51 L194.84 114.73 L195.05 113.94 L195.25 113.16 L195.45 112.37 L195.65 111.59 L195.85 110.81 L196.05 110.02 L196.26 109.24 L196.46 108.45 L196.67 107.67 L196.87 106.89 L197.08 106.10 L197.29 105.32 L197.50 104.54 L197.72 103.76 L197.93 102.98 L198.15 102.20 L198.37 101.42 L198.60 100.64 L198.83 99.87 L199.06 99.09 L199.29 98.31 L199.52 97.54 L199.76 96.76 L200.00 95.99 L200.24 95.21 L200.49 94.44 L200.75 93.67 L201.01 92.91 L201.28 92.15 L201.56 91.39 L201.84 90.63 L202.13 89.88 L202.44 89.13 L202.75 88.38 L203.07 87.64 L203.40 86.90 L203.74 86.16 L204.08 85.42 L204.43 84.69 L204.78 83.96 L205.14 83.23 L205.50 82.51 L205.86 81.78 L206.22 81.05 L206.60 80.33 L206.98 79.61 L207.38 78.90 L207.79 78.20 L208.22 77.52 L208.66 76.86 L209.14 76.21 L209.63 75.57 L210.15 74.93 L210.69 74.31 L211.24 73.70 L211.81 73.12 L212.39 72.56 L212.98 72.03 L213.59 71.52 L214.23 71.01 L214.89 70.52 L215.57 70.05 L216.27 69.61 L216.97 69.21 L217.68 68.85 L218.41 68.52 L219.15 68.18 L219.91 67.85 L220.69 67.53 L221.47 67.25 L222.26 67.03 L223.05 66.87 L223.84 66.80 L224.62 66.82 L225.42 66.89 L226.22 67.01 L227.02 67.16 L227.83 67.33 L228.63 67.51 L229.43 67.68 L230.22 67.84 L231.02 68.01 L231.81 68.18 L232.60 68.36 L233.39 68.55 L234.18 68.74 L234.97 68.95 L235.75 69.17 L236.52 69.39 L237.29 69.63 L238.05 69.89 L238.81 70.17 L239.56 70.47 L240.31 70.78 L241.05 71.12 L241.79 71.46 L242.52 71.82 L243.25 72.18 L243.97 72.54 L244.69 72.90 L245.41 73.26 L246.12 73.64 L246.84 74.02 L247.54 74.41 L248.25 74.80 L248.95 75.20 L249.66 75.60 L250.36 76.01 L251.05 76.43 L251.75 76.85 L252.44 77.27 L253.13 77.69 L253.82 78.12 L254.51 78.55 L255.20 78.98 L255.89 79.42 L256.57 79.85 L257.26 80.29 L257.94 80.72 L258.62 81.16 L259.31 81.60 L259.99 82.04 L260.67 82.47 L261.35 82.91 L262.04 83.34 L262.72 83.78 L263.40 84.22 L264.07 84.66 L264.75 85.11 L265.42 85.55 L266.10 86.00 L266.77 86.45 L267.44 86.91 L268.11 87.36 L268.78 87.82 L269.45 88.27 L270.12 88.73 L270.79 89.19 L271.45 89.65 L272.12 90.11 L272.79 90.57 L273.45 91.03 L274.12 91.49 L274.79 91.95 L275.46 92.41 L276.12 92.87 L276.79 93.33 L277.46 93.78 L278.13 94.24 L278.80 94.69 L279.47 95.15 L280.14 95.60 L280.81 96.05 L281.48 96.50 L282.16 96.95 L282.83 97.40 L283.51 97.85 L284.18 98.30 L284.85 98.75 L285.53 99.20 L286.20 99.65 L286.88 100.10 L287.55 100.55 L288.22 101.00 L288.90 101.45 L289.57 101.90 L290.24 102.35 L290.91 102.80 L291.58 103.26 L292.25 103.71 L292.92 104.17 L293.59 104.62 L294.26 105.08 L294.92 105.54 L295.59 106.01 L296.25 106.47 L296.91 106.94 L297.57 107.41 L298.23 107.87 L298.89 108.35 L299.54 108.82 L300.20 109.29 L300.86 109.77 L301.51 110.25 L302.16 110.72 L302.82 111.20 L303.47 111.68 L304.12 112.16 L304.77 112.65 L305.42 113.13 L306.07 113.61 L306.72 114.10 L307.37 114.58 L308.01 115.07 L308.66 115.56 L309.31 116.05 L309.95 116.54 L310.60 117.03 L311.24 117.52 L311.89 118.01 L312.53 118.50 L313.18 118.99 L313.82 119.48 L314.46 119.97 L315.10 120.46 L315.75 120.96 L316.39 121.46 L317.02 121.95 L317.66 122.45 L318.30 122.95 L318.93 123.45 L319.57 123.96 L320.20 124.46 L320.83 124.97 L321.46 125.48 L322.09 126.00 L322.71 126.52 L323.33 127.04 L323.95 127.56 L324.57 128.09 L325.19 128.61 L325.81 129.14 L326.43 129.66 L327.05 130.18 L327.68 130.70 L328.30 131.21 L328.93 131.72 L329.57 132.22 L330.20 132.72 L330.84 133.21 L331.49 133.69 L332.14 134.16 L332.80 134.62 L333.47 135.08 L334.15 135.52 L334.83 135.96 L335.51 136.40 L336.20 136.83 L336.89 137.26 L337.58 137.69 L338.26 138.11 L338.95 138.54 L339.64 138.97 L340.32 139.41 L341.00 139.85 L341.68 140.29 L342.36 140.74 L343.03 141.20 L343.71 141.65 L344.38 142.10 L345.06 142.54 L345.74 142.99 L346.43 143.42 L347.11 143.85 L347.80 144.27 L348.50 144.68 L349.20 145.08 L349.91 145.46 L350.62 145.83 L351.34 146.21 L352.06 146.58 L352.79 146.95 L353.52 147.31 L354.26 147.66 L355.00 148.00 L355.74 148.32 L356.49 148.63 L357.25 148.93 L358.00 149.20 L358.76 149.45 L359.53 149.70 L360.30 149.94 L361.08 150.18 L361.86 150.42 L362.65 150.64 L363.44 150.85 L364.23 151.04 L365.02 151.22 L365.82 151.37 L366.62 151.49 L367.41 151.59 L368.21 151.67 L369.01 151.75 L369.82 151.82 L370.62 151.89 L371.43 151.95 L372.24 152.01 L373.06 152.06 L373.87 152.11 L374.68 152.14 L375.49 152.17 L376.30 152.19 L377.11 152.20 L377.92 152.19 L378.73 152.17 L379.53 152.13 L380.34 152.07 L381.15 152.00 L381.96 151.93 L382.77 151.85 L383.57 151.77 L384.38 151.68 L385.18 151.60 L385.99 151.52 L386.79 151.42 L387.60 151.32 L388.40 151.21 L389.20 151.10 L390.00 150.98 L390.80 150.86 L391.60 150.74 L392.41 150.62 L393.21 150.51 L394.01 150.40 L394.81 150.30 L395.62 150.19 L396.42 150.09 L397.22 150.00 L398.03 149.90 L398.83 149.80 L399.63 149.70 L400.44 149.60 L401.24 149.50 L402.05 149.40 L402.85 149.30 L403.65 149.20 L404.45 149.09 L405.26 148.99 L406.06 148.88 L406.86 148.78 L407.67 148.67 L408.47 148.56 L409.27 148.46 L410.07 148.35 L410.88 148.24 L411.68 148.13 L412.48 148.02 L413.28 147.91 L414.09 147.80 L414.89 147.69 L415.69 147.58 L416.49 147.47 L417.29 147.36 L418.10 147.24 L418.90 147.13 L419.70 147.01 L420.50 146.90" fill="none" stroke="#0000ff" stroke-width="1.15" stroke-linejoin="round" transform="translate(0 -0.2)"/>
<path d="M126.00 290.00 L126.74 290.00 L127.49 290.00 L128.23 290.00 L128.98 290.00 L129.72 290.00 L130.46 289.99 L131.21 289.96 L131.95 289.91 L132.69 289.85 L133.43 289.77 L134.17 289.69 L134.91 289.61 L135.65 289.53 L136.39 289.45 L137.14 289.36 L137.88 289.27 L138.62 289.17 L139.36 289.06 L140.10 288.94 L140.83 288.81 L141.56 288.67 L142.28 288.53 L142.99 288.36 L143.71 288.16 L144.42 287.94 L145.13 287.69 L145.83 287.42 L146.53 287.14 L147.22 286.84 L147.89 286.53 L148.56 286.22 L149.22 285.90 L149.89 285.56 L150.56 285.20 L151.22 284.83 L151.88 284.43 L152.53 284.03 L153.15 283.60 L153.76 283.17 L154.35 282.71 L154.91 282.25 L155.43 281.76 L155.93 281.26 L156.40 280.72 L156.86 280.14 L157.30 279.54 L157.72 278.91 L158.13 278.27 L158.53 277.62 L158.92 276.97 L159.31 276.32 L159.70 275.67 L160.08 275.04 L160.45 274.40 L160.83 273.75 L161.19 273.10 L161.55 272.45 L161.90 271.79 L162.25 271.13 L162.58 270.46 L162.91 269.79 L163.22 269.12 L163.53 268.44 L163.82 267.76 L164.11 267.08 L164.39 266.39 L164.66 265.70 L164.93 265.00 L165.19 264.30 L165.44 263.60 L165.69 262.90 L165.94 262.20 L166.19 261.49 L166.43 260.79 L166.67 260.09 L166.91 259.38 L167.14 258.68 L167.37 257.97 L167.60 257.26 L167.82 256.55 L168.04 255.84 L168.26 255.13 L168.48 254.42 L168.69 253.70 L168.91 252.99 L169.12 252.28 L169.33 251.56 L169.55 250.85 L169.76 250.14 L169.97 249.42 L170.19 248.71 L170.40 248.00 L170.62 247.29 L170.83 246.57 L171.05 245.86 L171.26 245.15 L171.47 244.43 L171.68 243.72 L171.89 243.00 L172.09 242.29 L172.28 241.57 L172.48 240.85 L172.67 240.13 L172.85 239.41 L173.03 238.69 L173.21 237.97 L173.39 237.25 L173.56 236.53 L173.74 235.80 L173.91 235.08 L174.08 234.36 L174.25 233.63 L174.42 232.91 L174.58 232.18 L174.75 231.45 L174.91 230.73 L175.07 230.00 L175.23 229.27 L175.39 228.55 L175.55 227.82 L175.70 227.09 L175.85 226.36 L176.01 225.63 L176.16 224.90 L176.31 224.17 L176.45 223.44 L176.60 222.72 L176.75 221.99 L176.89 221.26 L177.03 220.53 L177.17 219.80 L177.31 219.07 L177.45 218.34 L177.58 217.60 L177.72 216.87 L177.85 216.14 L177.98 215.41 L178.10 214.67 L178.23 213.94 L178.36 213.21 L178.48 212.47 L178.60 211.74 L178.73 211.01 L178.85 210.27 L178.97 209.54 L179.09 208.80 L179.22 208.07 L179.34 207.33 L179.46 206.60 L179.58 205.87 L179.71 205.13 L179.83 204.40 L179.96 203.67 L180.08 202.93 L180.21 202.20 L180.34 201.47 L180.47 200.73 L180.60 200.00 L180.73 199.27 L180.87 198.54 L181.00 197.80 L181.13 197.07 L181.27 196.34 L181.40 195.61 L181.54 194.88 L181.67 194.15 L181.81 193.41 L181.94 192.68 L182.08 191.95 L182.22 191.22 L182.35 190.49 L182.49 189.76 L182.63 189.03 L182.77 188.29 L182.91 187.56 L183.05 186.83 L183.19 186.10 L183.33 185.37 L183.47 184.64 L183.62 183.91 L183.76 183.18 L183.91 182.45 L184.05 181.72 L184.20 180.99 L184.35 180.26 L184.50 179.54 L184.65 178.81 L184.80 178.08 L184.95 177.35 L185.10 176.62 L185.25 175.89 L185.40 175.16 L185.55 174.44 L185.71 173.71 L185.86 172.98 L186.01 172.25 L186.17 171.52 L186.32 170.80 L186.48 170.07 L186.64 169.34 L186.80 168.61 L186.95 167.89 L187.11 167.16 L187.27 166.43 L187.43 165.71 L187.59 164.98 L187.76 164.25 L187.92 163.53 L188.08 162.80 L188.24 162.07 L188.41 161.35 L188.57 160.62 L188.74 159.90 L188.91 159.17 L189.07 158.45 L189.24 157.72 L189.41 157.00 L189.58 156.27 L189.75 155.55 L189.92 154.83 L190.09 154.10 L190.27 153.38 L190.44 152.66 L190.61 151.93 L190.79 151.21 L190.97 150.49 L191.14 149.76 L191.33 149.04 L191.51 148.32 L191.69 147.60 L191.88 146.88 L192.06 146.16 L192.25 145.44 L192.44 144.72 L192.63 144.00 L192.82 143.28 L193.01 142.56 L193.21 141.84 L193.40 141.12 L193.60 140.41 L193.80 139.69 L193.99 138.97 L194.19 138.26 L194.39 137.54 L194.59 136.82 L194.79 136.10 L195.00 135.39 L195.20 134.67 L195.41 133.96 L195.62 133.24 L195.84 132.53 L196.06 131.82 L196.28 131.11 L196.50 130.40 L196.73 129.70 L196.97 128.99 L197.21 128.29 L197.45 127.58 L197.69 126.88 L197.94 126.18 L198.19 125.47 L198.45 124.77 L198.71 124.08 L198.98 123.38 L199.25 122.69 L199.53 122.00 L199.81 121.31 L200.09 120.62 L200.38 119.94 L200.68 119.26 L200.98 118.58 L201.29 117.90 L201.61 117.23 L201.93 116.55 L202.26 115.88 L202.59 115.21 L202.93 114.55 L203.28 113.89 L203.63 113.23 L204.00 112.58 L204.36 111.94 L204.74 111.30 L205.12 110.67 L205.51 110.04 L205.91 109.40 L206.32 108.78 L206.74 108.15 L207.17 107.53 L207.61 106.93 L208.06 106.33 L208.52 105.74 L208.99 105.17 L209.47 104.61 L209.96 104.07 L210.47 103.53 L211.00 103.00 L211.54 102.47 L212.10 101.96 L212.68 101.47 L213.26 101.00 L213.86 100.56 L214.46 100.15 L215.08 99.77 L215.71 99.38 L216.35 98.98 L217.01 98.58 L217.68 98.18 L218.36 97.80 L219.05 97.43 L219.74 97.09 L220.44 96.79 L221.15 96.52 L221.86 96.30 L222.58 96.14 L223.29 96.04 L224.00 96.00 L224.72 96.00 L225.45 96.01 L226.19 96.03 L226.94 96.05 L227.69 96.08 L228.44 96.11 L229.20 96.14 L229.95 96.18 L230.70 96.22 L231.44 96.27 L232.18 96.31 L232.92 96.38 L233.65 96.46 L234.38 96.57 L235.11 96.69 L235.84 96.84 L236.57 96.99 L237.30 97.16 L238.03 97.34 L238.75 97.53 L239.48 97.73 L240.20 97.93 L240.92 98.13 L241.64 98.34 L242.36 98.55 L243.08 98.75 L243.80 98.94 L244.51 99.14 L245.23 99.34 L245.94 99.54 L246.65 99.75 L247.36 99.97 L248.07 100.18 L248.78 100.41 L249.49 100.64 L250.20 100.87 L250.91 101.10 L251.62 101.34 L252.32 101.58 L253.02 101.83 L253.73 102.08 L254.43 102.33 L255.13 102.58 L255.83 102.84 L256.53 103.10 L257.23 103.36 L257.93 103.62 L258.62 103.89 L259.32 104.16 L260.01 104.42 L260.70 104.69 L261.40 104.96 L262.09 105.23 L262.78 105.50 L263.47 105.78 L264.15 106.06 L264.84 106.35 L265.53 106.63 L266.21 106.92 L266.90 107.22 L267.58 107.51 L268.27 107.81 L268.95 108.11 L269.63 108.42 L270.31 108.72 L270.99 109.03 L271.66 109.34 L272.34 109.65 L273.02 109.97 L273.69 110.29 L274.36 110.61 L275.03 110.93 L275.71 111.25 L276.37 111.58 L277.04 111.90 L277.71 112.23 L278.38 112.56 L279.04 112.89 L279.70 113.23 L280.36 113.57 L281.02 113.91 L281.68 114.25 L282.33 114.60 L282.99 114.96 L283.64 115.31 L284.29 115.67 L284.94 116.04 L285.59 116.40 L286.24 116.77 L286.88 117.14 L287.53 117.51 L288.17 117.88 L288.82 118.25 L289.46 118.63 L290.11 119.00 L290.75 119.38 L291.39 119.75 L292.04 120.13 L292.68 120.51 L293.32 120.88 L293.97 121.26 L294.61 121.63 L295.26 122.00 L295.90 122.37 L296.55 122.74 L297.19 123.11 L297.84 123.48 L298.49 123.85 L299.13 124.23 L299.77 124.60 L300.41 124.98 L301.05 125.36 L301.69 125.74 L302.33 126.12 L302.97 126.51 L303.61 126.89 L304.25 127.27 L304.90 127.65 L305.54 128.03 L306.18 128.41 L306.82 128.79 L307.46 129.16 L308.11 129.54 L308.75 129.91 L309.40 130.27 L310.05 130.64 L310.70 131.00 L311.35 131.36 L312.00 131.71 L312.66 132.06 L313.32 132.40 L313.98 132.74 L314.64 133.07 L315.31 133.39 L315.99 133.70 L316.67 134.00 L317.35 134.29 L318.04 134.59 L318.72 134.89 L319.39 135.20 L320.06 135.53 L320.72 135.87 L321.38 136.21 L322.04 136.56 L322.69 136.91 L323.34 137.27 L323.99 137.64 L324.63 138.01 L325.28 138.38 L325.92 138.75 L326.56 139.13 L327.21 139.51 L327.85 139.89 L328.49 140.28 L329.12 140.66 L329.76 141.04 L330.40 141.43 L331.04 141.81 L331.68 142.19 L332.32 142.57 L332.96 142.95 L333.59 143.34 L334.22 143.74 L334.86 144.13 L335.49 144.53 L336.12 144.92 L336.75 145.32 L337.38 145.71 L338.02 146.10 L338.66 146.48 L339.30 146.85 L339.94 147.22 L340.59 147.58 L341.24 147.95 L341.89 148.32 L342.54 148.70 L343.20 149.07 L343.85 149.44 L344.51 149.81 L345.17 150.16 L345.84 150.51 L346.50 150.84 L347.17 151.16 L347.85 151.46 L348.53 151.74 L349.22 152.00 L349.91 152.24 L350.61 152.46 L351.31 152.69 L352.03 152.91 L352.74 153.12 L353.47 153.33 L354.20 153.52 L354.93 153.70 L355.66 153.87 L356.39 154.01 L357.13 154.13 L357.86 154.23 L358.60 154.30 L359.33 154.35 L360.07 154.41 L360.81 154.46 L361.56 154.50 L362.30 154.55 L363.05 154.58 L363.79 154.62 L364.54 154.65 L365.29 154.67 L366.03 154.69 L366.78 154.70 L367.52 154.70 L368.26 154.69 L369.00 154.65 L369.74 154.60 L370.48 154.53 L371.22 154.45 L371.96 154.35 L372.70 154.25 L373.44 154.13 L374.18 154.01 L374.91 153.89 L375.65 153.77 L376.38 153.65 L377.12 153.53 L377.85 153.41 L378.58 153.28 L379.31 153.14 L380.04 152.99 L380.77 152.83 L381.50 152.67 L382.22 152.51 L382.95 152.35 L383.68 152.20 L384.41 152.05 L385.14 151.91 L385.87 151.78 L386.61 151.65 L387.34 151.53 L388.07 151.41 L388.81 151.29 L389.54 151.17 L390.28 151.06 L391.01 150.95 L391.75 150.83 L392.49 150.72 L393.22 150.61 L393.96 150.51 L394.69 150.40 L395.43 150.30 L396.17 150.19 L396.91 150.09 L397.64 149.99 L398.38 149.89 L399.12 149.80 L399.86 149.70 L400.59 149.60 L401.33 149.50 L402.07 149.41 L402.81 149.31 L403.54 149.21 L404.28 149.11 L405.02 149.01 L405.76 148.91 L406.49 148.81 L407.23 148.71 L407.97 148.61 L408.70 148.50 L409.44 148.40 L410.18 148.30 L410.92 148.20 L411.65 148.10 L412.39 148.00 L413.13 147.90 L413.86 147.80 L414.60 147.70 L415.34 147.60 L416.08 147.50 L416.81 147.40 L417.55 147.30 L418.29 147.20 L419.03 147.10 L419.76 147.00 L420.50 146.90" fill="none" stroke="#ff0000" stroke-width="1.15" stroke-linejoin="round" transform="translate(0 0.2)"/>
<path d="M126.00 290.00 L126.68 290.00 L127.36 290.00 L128.04 290.00 L128.72 290.00 L129.40 290.00 L130.08 290.00 L130.76 289.99 L131.44 289.95 L132.12 289.90 L132.80 289.84 L133.47 289.76 L134.15 289.69 L134.83 289.62 L135.50 289.55 L136.18 289.47 L136.86 289.39 L137.54 289.31 L138.22 289.22 L138.90 289.13 L139.57 289.02 L140.24 288.91 L140.91 288.80 L141.58 288.67 L142.23 288.54 L142.89 288.39 L143.54 288.21 L144.19 288.01 L144.84 287.79 L145.49 287.55 L146.12 287.30 L146.76 287.03 L147.39 286.76 L148.00 286.48 L148.62 286.19 L149.23 285.90 L149.84 285.60 L150.45 285.28 L151.06 284.95 L151.67 284.61 L152.27 284.26 L152.86 283.89 L153.43 283.51 L153.99 283.12 L154.53 282.71 L155.04 282.30 L155.54 281.87 L156.01 281.42 L156.46 280.93 L156.91 280.42 L157.34 279.89 L157.76 279.35 L158.16 278.78 L158.56 278.21 L158.95 277.63 L159.33 277.05 L159.70 276.48 L160.06 275.91 L160.42 275.33 L160.76 274.75 L161.11 274.16 L161.44 273.57 L161.77 272.97 L162.09 272.37 L162.41 271.76 L162.72 271.16 L163.02 270.54 L163.32 269.93 L163.61 269.32 L163.91 268.70 L164.19 268.09 L164.47 267.47 L164.75 266.85 L165.02 266.23 L165.28 265.60 L165.55 264.97 L165.80 264.34 L166.06 263.71 L166.31 263.08 L166.56 262.44 L166.81 261.81 L167.05 261.17 L167.30 260.54 L167.54 259.90 L167.78 259.26 L168.01 258.63 L168.24 257.99 L168.47 257.35 L168.70 256.71 L168.93 256.06 L169.15 255.42 L169.37 254.78 L169.59 254.14 L169.81 253.49 L170.03 252.85 L170.25 252.20 L170.47 251.56 L170.69 250.91 L170.91 250.27 L171.13 249.63 L171.35 248.98 L171.58 248.34 L171.80 247.70 L172.03 247.05 L172.26 246.41 L172.48 245.77 L172.70 245.12 L172.92 244.48 L173.14 243.83 L173.35 243.19 L173.55 242.54 L173.74 241.89 L173.93 241.24 L174.11 240.58 L174.29 239.93 L174.46 239.27 L174.63 238.62 L174.80 237.96 L174.96 237.30 L175.12 236.64 L175.28 235.98 L175.43 235.32 L175.59 234.65 L175.74 233.99 L175.89 233.33 L176.03 232.66 L176.18 232.00 L176.32 231.33 L176.46 230.67 L176.61 230.00 L176.75 229.33 L176.89 228.67 L177.03 228.00 L177.17 227.33 L177.31 226.67 L177.45 226.00 L177.59 225.33 L177.73 224.67 L177.87 224.00 L178.02 223.33 L178.16 222.67 L178.31 222.00 L178.46 221.34 L178.61 220.68 L178.76 220.01 L178.91 219.35 L179.06 218.69 L179.21 218.02 L179.35 217.36 L179.50 216.69 L179.65 216.03 L179.80 215.37 L179.95 214.70 L180.10 214.04 L180.25 213.38 L180.40 212.71 L180.55 212.05 L180.70 211.38 L180.85 210.72 L180.99 210.06 L181.14 209.39 L181.29 208.73 L181.44 208.07 L181.59 207.40 L181.74 206.74 L181.90 206.08 L182.05 205.41 L182.20 204.75 L182.35 204.09 L182.50 203.42 L182.66 202.76 L182.81 202.10 L182.96 201.44 L183.12 200.77 L183.27 200.11 L183.43 199.45 L183.59 198.79 L183.74 198.13 L183.90 197.46 L184.06 196.80 L184.21 196.14 L184.37 195.48 L184.53 194.82 L184.69 194.16 L184.85 193.50 L185.01 192.83 L185.17 192.17 L185.33 191.51 L185.49 190.85 L185.65 190.19 L185.81 189.53 L185.98 188.87 L186.14 188.21 L186.30 187.55 L186.46 186.89 L186.63 186.23 L186.79 185.57 L186.95 184.91 L187.12 184.25 L187.28 183.58 L187.44 182.92 L187.61 182.26 L187.77 181.60 L187.94 180.94 L188.10 180.28 L188.27 179.62 L188.43 178.96 L188.59 178.30 L188.75 177.64 L188.92 176.98 L189.08 176.32 L189.24 175.66 L189.40 175.00 L189.57 174.34 L189.74 173.68 L189.90 173.02 L190.07 172.36 L190.25 171.70 L190.42 171.04 L190.60 170.39 L190.78 169.73 L190.96 169.08 L191.15 168.43 L191.34 167.77 L191.53 167.12 L191.72 166.47 L191.92 165.81 L192.12 165.16 L192.32 164.51 L192.52 163.86 L192.73 163.20 L192.94 162.56 L193.15 161.91 L193.37 161.26 L193.59 160.62 L193.82 159.98 L194.05 159.34 L194.29 158.71 L194.53 158.07 L194.78 157.45 L195.04 156.82 L195.30 156.20 L195.57 155.57 L195.85 154.95 L196.14 154.33 L196.43 153.71 L196.73 153.10 L197.03 152.48 L197.34 151.88 L197.66 151.27 L197.98 150.67 L198.31 150.07 L198.64 149.47 L198.98 148.88 L199.32 148.30 L199.67 147.72 L200.02 147.14 L200.38 146.57 L200.75 146.00 L201.13 145.44 L201.52 144.88 L201.91 144.32 L202.32 143.77 L202.73 143.22 L203.14 142.68 L203.56 142.14 L203.99 141.60 L204.42 141.07 L204.85 140.55 L205.29 140.03 L205.73 139.52 L206.17 139.00 L206.62 138.49 L207.08 137.97 L207.54 137.46 L208.01 136.96 L208.49 136.47 L208.97 135.98 L209.47 135.51 L209.97 135.06 L210.48 134.62 L211.00 134.20 L211.53 133.79 L212.08 133.40 L212.63 133.00 L213.20 132.62 L213.78 132.25 L214.37 131.89 L214.97 131.54 L215.57 131.21 L216.17 130.90 L216.78 130.60 L217.39 130.31 L218.00 130.03 L218.63 129.75 L219.26 129.46 L219.89 129.19 L220.54 128.93 L221.18 128.69 L221.84 128.47 L222.49 128.28 L223.15 128.13 L223.81 128.02 L224.47 127.95 L225.13 127.88 L225.81 127.82 L226.48 127.76 L227.16 127.70 L227.85 127.65 L228.53 127.61 L229.22 127.57 L229.90 127.54 L230.59 127.52 L231.27 127.51 L231.95 127.50 L232.62 127.51 L233.30 127.53 L233.98 127.57 L234.65 127.63 L235.33 127.69 L236.00 127.77 L236.68 127.86 L237.35 127.95 L238.03 128.05 L238.70 128.16 L239.38 128.27 L240.05 128.38 L240.73 128.50 L241.40 128.61 L242.07 128.72 L242.75 128.82 L243.42 128.92 L244.10 129.01 L244.77 129.10 L245.45 129.19 L246.12 129.28 L246.80 129.37 L247.47 129.45 L248.15 129.54 L248.82 129.63 L249.50 129.72 L250.17 129.81 L250.85 129.90 L251.52 129.99 L252.20 130.08 L252.87 130.17 L253.55 130.26 L254.22 130.36 L254.89 130.45 L255.57 130.55 L256.24 130.65 L256.91 130.75 L257.58 130.85 L258.26 130.96 L258.93 131.07 L259.60 131.18 L260.27 131.29 L260.94 131.40 L261.60 131.52 L262.27 131.64 L262.94 131.76 L263.61 131.89 L264.27 132.02 L264.94 132.15 L265.61 132.29 L266.27 132.43 L266.94 132.57 L267.61 132.71 L268.27 132.86 L268.93 133.01 L269.60 133.16 L270.26 133.32 L270.93 133.48 L271.59 133.63 L272.25 133.79 L272.91 133.96 L273.57 134.12 L274.23 134.29 L274.89 134.46 L275.55 134.62 L276.21 134.80 L276.87 134.97 L277.53 135.14 L278.18 135.31 L278.84 135.49 L279.50 135.67 L280.15 135.85 L280.80 136.03 L281.46 136.21 L282.11 136.40 L282.76 136.59 L283.42 136.79 L284.07 136.98 L284.72 137.18 L285.37 137.38 L286.02 137.58 L286.67 137.79 L287.32 138.00 L287.96 138.21 L288.61 138.42 L289.26 138.63 L289.91 138.85 L290.55 139.06 L291.20 139.28 L291.84 139.50 L292.49 139.72 L293.13 139.94 L293.77 140.17 L294.42 140.39 L295.06 140.61 L295.70 140.84 L296.34 141.07 L296.98 141.29 L297.62 141.52 L298.26 141.76 L298.89 141.99 L299.53 142.23 L300.16 142.48 L300.80 142.73 L301.43 142.98 L302.06 143.23 L302.69 143.49 L303.32 143.74 L303.95 144.00 L304.58 144.26 L305.21 144.52 L305.84 144.78 L306.47 145.04 L307.10 145.30 L307.73 145.56 L308.36 145.82 L308.99 146.07 L309.62 146.33 L310.25 146.58 L310.89 146.83 L311.52 147.08 L312.15 147.33 L312.79 147.57 L313.42 147.81 L314.06 148.04 L314.70 148.27 L315.34 148.50 L315.98 148.74 L316.62 148.97 L317.26 149.21 L317.90 149.44 L318.54 149.68 L319.18 149.92 L319.82 150.16 L320.46 150.39 L321.11 150.63 L321.75 150.86 L322.39 151.09 L323.04 151.32 L323.68 151.54 L324.33 151.76 L324.97 151.98 L325.62 152.20 L326.27 152.40 L326.92 152.61 L327.57 152.80 L328.22 153.00 L328.87 153.18 L329.53 153.36 L330.18 153.53 L330.84 153.69 L331.50 153.84 L332.16 153.99 L332.82 154.13 L333.48 154.25 L334.15 154.37 L334.82 154.48 L335.49 154.59 L336.17 154.69 L336.84 154.79 L337.52 154.89 L338.19 155.00 L338.87 155.10 L339.54 155.22 L340.21 155.34 L340.87 155.47 L341.54 155.61 L342.21 155.77 L342.87 155.92 L343.54 156.09 L344.20 156.25 L344.86 156.41 L345.53 156.56 L346.19 156.71 L346.86 156.85 L347.53 156.98 L348.19 157.10 L348.86 157.20 L349.53 157.27 L350.21 157.34 L350.88 157.39 L351.56 157.45 L352.24 157.51 L352.92 157.56 L353.60 157.61 L354.28 157.65 L354.96 157.69 L355.64 157.73 L356.32 157.76 L357.00 157.78 L357.68 157.79 L358.36 157.80 L359.04 157.80 L359.72 157.79 L360.40 157.77 L361.08 157.74 L361.76 157.70 L362.45 157.66 L363.13 157.61 L363.81 157.56 L364.49 157.50 L365.17 157.44 L365.84 157.37 L366.52 157.30 L367.19 157.23 L367.86 157.16 L368.52 157.06 L369.19 156.95 L369.85 156.82 L370.52 156.67 L371.18 156.50 L371.84 156.33 L372.49 156.14 L373.15 155.95 L373.81 155.75 L374.46 155.55 L375.12 155.35 L375.77 155.15 L376.43 154.95 L377.08 154.76 L377.73 154.57 L378.38 154.37 L379.03 154.16 L379.68 153.94 L380.32 153.72 L380.97 153.50 L381.61 153.27 L382.26 153.05 L382.91 152.84 L383.55 152.64 L384.21 152.45 L384.86 152.28 L385.52 152.13 L386.18 151.98 L386.84 151.84 L387.51 151.71 L388.18 151.58 L388.85 151.46 L389.52 151.34 L390.19 151.22 L390.86 151.11 L391.54 151.00 L392.21 150.89 L392.88 150.78 L393.55 150.67 L394.23 150.56 L394.90 150.46 L395.57 150.35 L396.24 150.25 L396.91 150.15 L397.59 150.05 L398.26 149.95 L398.93 149.85 L399.61 149.76 L400.28 149.66 L400.95 149.57 L401.63 149.47 L402.30 149.38 L402.98 149.28 L403.65 149.19 L404.32 149.09 L405.00 149.00 L405.67 148.90 L406.34 148.81 L407.02 148.71 L407.69 148.62 L408.36 148.53 L409.04 148.43 L409.71 148.34 L410.39 148.25 L411.06 148.16 L411.73 148.06 L412.41 147.97 L413.08 147.88 L413.76 147.79 L414.43 147.70 L415.10 147.61 L415.78 147.52 L416.45 147.43 L417.13 147.34 L417.80 147.25 L418.48 147.16 L419.15 147.07 L419.83 146.99 L420.50 146.90" fill="none" stroke="#888888" stroke-width="1.15" stroke-linejoin="round" transform="translate(0 0.05)"/>
<path d="M420.5 33.5V290.1" stroke="#000" stroke-width="1" fill="none"/>
<rect x="168.25" y="51.85" width="8.30" height="8.30" fill="none" stroke="#000000" stroke-width="0.9"/><rect x="171.95" y="55.55" width="0.9" height="0.9" fill="#000000" opacity="0.6"/>
<path d="M168.10 68.30h8.60M172.40 64.00v8.60M168.30 64.20l8.20 8.20M168.30 72.40l8.20 -8.20" stroke="#0000ff" stroke-width="1" fill="none"/>
<path d="M172.40 75.55L168.30 82.70L176.50 82.70Z" stroke="#ff0000" stroke-width="1" fill="none"/><rect x="171.95" y="79.85" width="0.9" height="0.9" fill="#ff0000" opacity="0.6"/>
<circle cx="172.40" cy="92.60" r="4.40" fill="none" stroke="#888888" stroke-width="0.9"/><rect x="171.95" y="92.15" width="0.9" height="0.9" fill="#888888" opacity="0.6"/>
<g transform="rotate(0.03 218 165)">
<text x="59.9" y="294.70" text-anchor="end" font-family="Liberation Mono, monospace" font-size="11.8" letter-spacing="0.3" fill="#000" stroke="#fff" stroke-width="0.12" paint-order="fill">0</text>
<text x="59.9" y="269.04" text-anchor="end" font-family="Liberation Mono, monospace" font-size="11.8" letter-spacing="0.3" fill="#000" stroke="#fff" stroke-width="0.12" paint-order="fill">0.05</text>
<text x="59.9" y="243.38" text-anchor="end" font-family="Liberation Mono, monospace" font-size="11.8" letter-spacing="0.3" fill="#000" stroke="#fff" stroke-width="0.12" paint-order="fill">0.1</text>
<text x="59.9" y="217.72" text-anchor="end" font-family="Liberation Mono, monospace" font-size="11.8" letter-spacing="0.3" fill="#000" stroke="#fff" stroke-width="0.12" paint-order="fill">0.15</text>
<text x="59.9" y="192.06" text-anchor="end" font-family="Liberation Mono, monospace" font-size="11.8" letter-spacing="0.3" fill="#000" stroke="#fff" stroke-width="0.12" paint-order="fill">0.2</text>
<text x="59.9" y="166.40" text-anchor="end" font-family="Liberation Mono, monospace" font-size="11.8" letter-spacing="0.3" fill="#000" stroke="#fff" stroke-width="0.12" paint-order="fill">0.25</text>
<text x="59.9" y="140.74" text-anchor="end" font-family="Liberation Mono, monospace" font-size="11.8" letter-spacing="0.3" fill="#000" stroke="#fff" stroke-width="0.12" paint-order="fill">0.3</text>
<text x="59.9" y="115.08" text-anchor="end" font-family="Liberation Mono, monospace" font-size="11.8" letter-spacing="0.3" fill="#000" stroke="#fff" stroke-width="0.12" paint-order="fill">0.35</text>
<text x="59.9" y="89.42" text-anchor="end" font-family="Liberation Mono, monospace" font-size="11.8" letter-spacing="0.3" fill="#000" stroke="#fff" stroke-width="0.12" paint-order="fill">0.4</text>
<text x="59.9" y="63.76" text-anchor="end" font-family="Liberation Mono, monospace" font-size="11.8" letter-spacing="0.3" fill="#000" stroke="#fff" stroke-width="0.12" paint-order="fill">0.45</text>
<text x="59.9" y="38.10" text-anchor="end" font-family="Liberation Mono, monospace" font-size="11.8" letter-spacing="0.3" fill="#000" stroke="#fff" stroke-width="0.12" paint-order="fill">0.5</text>
<text x="70.90" y="306.9" text-anchor="middle" font-family="Liberation Mono, monospace" font-size="11.8" letter-spacing="0.3" fill="#000" stroke="#fff" stroke-width="0.12" paint-order="fill">50</text>
<text x="159.18" y="306.9" text-anchor="middle" font-family="Liberation Mono, monospace" font-size="11.8" letter-spacing="0.3" fill="#000" stroke="#fff" stroke-width="0.12" paint-order="fill">100</text>
<text x="247.45" y="306.9" text-anchor="middle" font-family="Liberation Mono, monospace" font-size="11.8" letter-spacing="0.3" fill="#000" stroke="#fff" stroke-width="0.12" paint-order="fill">150</text>
<text x="335.73" y="306.9" text-anchor="middle" font-family="Liberation Mono, monospace" font-size="11.8" letter-spacing="0.3" fill="#000" stroke="#fff" stroke-width="0.12" paint-order="fill">200</text>
<text x="424.00" y="306.9" text-anchor="middle" font-family="Liberation Mono, monospace" font-size="11.8" letter-spacing="0.3" fill="#000" stroke="#fff" stroke-width="0.12" paint-order="fill">250</text>
<text x="148.7" y="60.10" text-anchor="end" font-family="Liberation Mono, monospace" font-size="11" letter-spacing="0.77" fill="#000" stroke="#fff" stroke-width="0.1" paint-order="fill"><tspan font-family="Liberation Sans, sans-serif" font-size="12.5">α</tspan>=0.0025</text>
<text x="148.7" y="72.30" text-anchor="end" font-family="Liberation Mono, monospace" font-size="11" letter-spacing="0.77" fill="#000" stroke="#fff" stroke-width="0.1" paint-order="fill"><tspan font-family="Liberation Sans, sans-serif" font-size="12.5">α</tspan>=0.005</text>
<text x="148.7" y="84.60" text-anchor="end" font-family="Liberation Mono, monospace" font-size="11" letter-spacing="0.77" fill="#000" stroke="#fff" stroke-width="0.1" paint-order="fill"><tspan font-family="Liberation Sans, sans-serif" font-size="12.5">α</tspan>=0.01</text>
<text x="148.7" y="96.90" text-anchor="end" font-family="Liberation Mono, monospace" font-size="11" letter-spacing="0.77" fill="#000" stroke="#fff" stroke-width="0.1" paint-order="fill"><tspan font-family="Liberation Sans, sans-serif" font-size="12.5">α</tspan>=0.02</text>
<text x="174" y="323.6" font-family="Liberation Mono, monospace" font-size="10.8" letter-spacing="0.92" fill="#000"><tspan font-family="Liberation Sans, sans-serif" font-size="12">λ</tspan>, job arrival rate</text>
</g>
<text transform="translate(13 316.3) rotate(-90)" font-family="Liberation Mono, monospace" font-size="10.8" letter-spacing="0.92" fill="#000">W<tspan font-size="9" dy="3.5">q</tspan><tspan dy="-3.5">, average response time in queue per job</tspan></text>
</svg>
</body></html>
